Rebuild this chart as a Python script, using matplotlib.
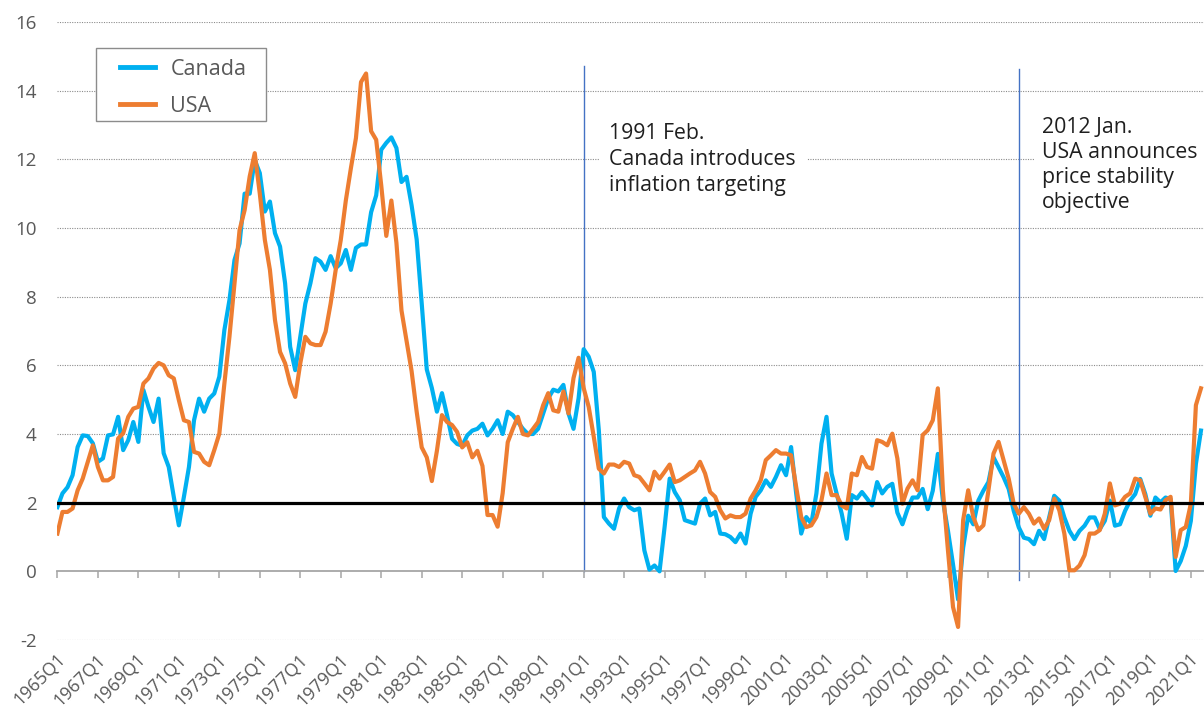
import matplotlib
matplotlib.use("Agg")
import matplotlib.pyplot as plt
from matplotlib.transforms import offset_copy, blended_transform_factory
from matplotlib.legend_handler import HandlerLine2D
from matplotlib.patches import Rectangle

FONT = ["Open Sans", "DejaVu Sans"]
plt.rcParams["font.family"] = FONT

# ---- data -------------------------------------------------------------
quarters = [f"{y}Q{q}" for y in range(1965, 2022) for q in range(1, 5)][:227]

canada = [
    1.87, 2.27, 2.45, 2.8, 3.62, 3.96, 3.94, 3.73, 3.19, 3.29,
    3.96, 3.99, 4.5, 3.53, 3.82, 4.35, 3.77, 5.28, 4.79, 4.35,
    5.03, 3.44, 3.04, 2.17, 1.34, 2.17, 3.04, 4.4, 5.03, 4.65,
    5.03, 5.18, 5.67, 7.03, 7.9, 9.07, 9.55, 11.0, 11.0, 11.98,
    11.6, 10.48, 10.77, 9.85, 9.46, 8.39, 6.54, 5.86, 6.83, 7.8,
    8.39, 9.12, 9.02, 8.78, 9.18, 8.83, 8.97, 9.36, 8.78, 9.42,
    9.52, 9.52, 10.46, 10.95, 12.28, 12.48, 12.64, 12.33, 11.34, 11.49,
    10.66, 9.67, 7.8, 5.88, 5.34, 4.65, 5.19, 4.55, 3.86, 3.71,
    3.66, 3.96, 4.1, 4.15, 4.3, 3.96, 4.15, 4.4, 4.0, 4.65,
    4.55, 4.35, 4.15, 4.0, 4.0, 4.15, 4.6, 5.04, 5.29, 5.24,
    5.43, 4.6, 4.15, 5.04, 6.47, 6.25, 5.81, 4.11, 1.58, 1.39,
    1.24, 1.83, 2.12, 1.87, 1.78, 1.83, 0.61, 0.05, 0.17, 0.0,
    1.29, 2.7, 2.31, 2.07, 1.49, 1.44, 1.39, 1.97, 2.12, 1.63,
    1.73, 1.1, 1.08, 1.0, 0.85, 1.1, 0.81, 1.68, 2.17, 2.36,
    2.65, 2.46, 2.75, 3.09, 2.8, 3.62, 2.27, 1.1, 1.58, 1.39,
    2.27, 3.72, 4.5, 2.85, 2.27, 1.68, 0.95, 2.22, 2.12, 2.31,
    2.12, 1.92, 2.6, 2.27, 2.46, 2.55, 1.71, 1.37, 1.81, 2.15,
    2.15, 2.4, 1.81, 2.35, 3.42, 2.06, 1.18, 0.2, -0.82, 0.69,
    1.62, 1.37, 2.06, 2.35, 2.6, 3.32, 3.03, 2.74, 2.4, 1.76,
    1.28, 0.98, 0.94, 0.79, 1.18, 0.94, 1.57, 2.2, 2.06, 1.57,
    1.18, 0.94, 1.18, 1.33, 1.57, 1.57, 1.23, 1.47, 2.06, 1.33,
    1.37, 1.76, 2.06, 2.25, 2.69, 2.25, 1.62, 2.15, 2.01, 2.15,
    2.1, 0.01, 0.3, 0.74, 1.47, 3.13, 4.1,
]

usa = [
    1.1, 1.73, 1.73, 1.83, 2.36, 2.7, 3.19, 3.67, 3.04, 2.65,
    2.65, 2.75, 3.87, 4.02, 4.5, 4.74, 4.79, 5.47, 5.62, 5.91,
    6.07, 6.0, 5.71, 5.62, 4.99, 4.4, 4.35, 3.48, 3.43, 3.19,
    3.09, 3.53, 4.01, 5.47, 6.83, 8.39, 9.94, 10.52, 11.5, 12.18,
    11.0, 9.65, 8.78, 7.32, 6.39, 6.06, 5.47, 5.08, 6.06, 6.83,
    6.64, 6.59, 6.59, 6.98, 7.8, 8.78, 9.65, 10.8, 11.74, 12.62,
    14.25, 14.5, 12.82, 12.57, 11.24, 9.77, 10.8, 9.57, 7.6, 6.71,
    5.83, 4.65, 3.61, 3.32, 2.63, 3.51, 4.55, 4.35, 4.26, 4.06,
    3.61, 3.76, 3.32, 3.51, 3.07, 1.64, 1.64, 1.3, 2.28, 3.76,
    4.15, 4.5, 4.0, 3.96, 4.15, 4.35, 4.84, 5.19, 4.69, 4.65,
    5.24, 4.6, 5.63, 6.22, 5.34, 4.79, 3.92, 2.99, 2.85, 3.11,
    3.11, 3.04, 3.19, 3.14, 2.8, 2.75, 2.56, 2.36, 2.9, 2.7,
    2.9, 3.11, 2.6, 2.65, 2.75, 2.85, 2.94, 3.19, 2.85, 2.31,
    2.17, 1.78, 1.54, 1.63, 1.58, 1.58, 1.68, 2.12, 2.36, 2.65,
    3.24, 3.38, 3.53, 3.43, 3.43, 3.38, 2.46, 1.58, 1.29, 1.34,
    1.58, 2.07, 2.85, 2.22, 2.22, 1.92, 1.83, 2.85, 2.8, 3.33,
    3.04, 2.99, 3.82, 3.77, 3.67, 4.01, 3.29, 1.97, 2.41, 2.65,
    2.36, 3.97, 4.11, 4.4, 5.33, 2.36, 0.61, -1.04, -1.62, 1.49,
    2.36, 1.58, 1.2, 1.34, 2.36, 3.43, 3.77, 3.24, 2.7, 1.97,
    1.68, 1.87, 1.68, 1.39, 1.54, 1.24, 1.49, 2.12, 1.78, 1.1,
    0.03, 0.03, 0.17, 0.47, 1.1, 1.1, 1.2, 1.68, 2.56, 1.92,
    1.97, 2.17, 2.27, 2.7, 2.65, 2.17, 1.68, 1.83, 1.8, 2.07,
    2.17, 0.42, 1.2, 1.29, 1.97, 4.84, 5.33,
]

series_names = ["Canada", "USA"]
target = 2.0
yticks = [-2, 0, 2, 4, 6, 8, 10, 12, 14, 16]
tick_labels = quarters[::8]
event_quarters = ["1991Q1", "2012Q3"]
event_texts = ["1991 Feb.\nCanada introduces\ninflation targeting",
               "2012 Jan.\nUSA announces\nprice stability\nobjective"]

# ---- styling ------------------------------------------------------------
C_CAN = "#00B0F0"
C_USA = "#ED7D31"
GRAY = "#595959"
AXIS_GRAY = "#A6A6A6"

W, H = 1204, 707
AX_L, AX_T, AX_B = 57.4, 22, 640
AX_W, AX_H = W - AX_L, AX_B - AX_T
fig = plt.figure(figsize=(W / 100, H / 100), dpi=100)
ax = fig.add_axes([AX_L / W, (H - AX_B) / H, AX_W / W, AX_H / H])

x = list(range(len(quarters)))
ax.plot(x, canada, color=C_CAN, lw=3.0, solid_joinstyle="round", label=series_names[0], zorder=4)
ax.plot(x, usa, color=C_USA, lw=3.0, solid_joinstyle="round", label=series_names[1], zorder=5)

ax.set_xlim(0, 226.6)
ax.set_ylim(-2, 16)

# gridlines
for yv in yticks:
    if yv == 0:
        continue
    ax.axhline(yv, color="#8C8C8C", lw=0.8, ls=(0, (1, 1.2)), zorder=1)
ax.axhline(target, color="black", lw=2.3, zorder=6)

# axes
for s in ["top", "right", "left"]:
    ax.spines[s].set_visible(False)
ax.spines["bottom"].set_position(("data", 0))
ax.spines["bottom"].set_color(AXIS_GRAY)
ax.spines["bottom"].set_linewidth(1.3)
ax.spines["bottom"].set_zorder(3)
tick_pos = [quarters.index(t) for t in tick_labels]
ax.set_xticks(tick_pos)
ax.tick_params(axis="x", direction="out", length=5, width=1.1, color=AXIS_GRAY,
               labelbottom=False)
ax.set_yticks(yticks)
ax.set_yticklabels([str(v) for v in yticks])
ax.tick_params(axis="y", length=0, pad=15, labelsize=13.5, labelcolor=GRAY)

# rotated category labels below the plot area
blend = blended_transform_factory(ax.transData, ax.transAxes)
lab_tr = offset_copy(blend, fig=fig, x=3.6, y=-12.0, units="points")
for p, lab in zip(tick_pos, tick_labels):
    ax.text(p, 0, lab, transform=lab_tr, rotation=45, ha="right", va="center",
            rotation_mode="anchor", fontsize=13, color=GRAY, clip_on=False)

# events
ytop = [14.72, 14.63]
ybot = [0, -0.25]
for q, yt, yb in zip(event_quarters, ytop, ybot):
    xi = quarters.index(q)
    ax.plot([xi, xi], [yb, yt], color="#4472C4", lw=1.0, zorder=2)
ax.text(quarters.index(event_quarters[0]) + 5.1, 12.0, event_texts[0],
        fontsize=15.3, color="#1F1F1F", va="center", ha="left", linespacing=1.3,
        bbox=dict(boxstyle="square,pad=0.5", fc="white", ec="none"), zorder=3)
ax.text(quarters.index(event_quarters[1]) + 4.5, 11.84, event_texts[1],
        fontsize=15.3, color="#1F1F1F", va="center", ha="left", linespacing=1.25,
        bbox=dict(boxstyle="square,pad=0.35", fc="white", ec="none"), zorder=3)

# legend (frame drawn as a separate box to match the reference proportions)
box_l, box_t, box_r, box_b = 96, 48, 266, 121
ax.add_patch(Rectangle(((box_l - AX_L) / AX_W, (AX_B - box_b) / AX_H),
                       (box_r - box_l) / AX_W, (box_b - box_t) / AX_H,
                       transform=ax.transAxes, fc="white", ec="#8C8C8C", lw=1.0,
                       zorder=9, clip_on=False))
FS = 15.5
handler = HandlerLine2D(xpad=0.62)
leg = ax.legend(loc="upper left",
                bbox_to_anchor=((box_l - AX_L) / AX_W, (AX_B - box_t) / AX_H),
                borderaxespad=0, frameon=False, fontsize=FS,
                handlelength=2.25, handletextpad=0.7, borderpad=0.5,
                labelspacing=0.75,
                handler_map={ax.lines[0]: handler, ax.lines[1]: handler})
for t in leg.get_texts():
    t.set_color(GRAY)
for l in leg.get_lines():
    l.set_linewidth(3.5)
leg.set_zorder(10)

fig.savefig("out.png", dpi=100)
